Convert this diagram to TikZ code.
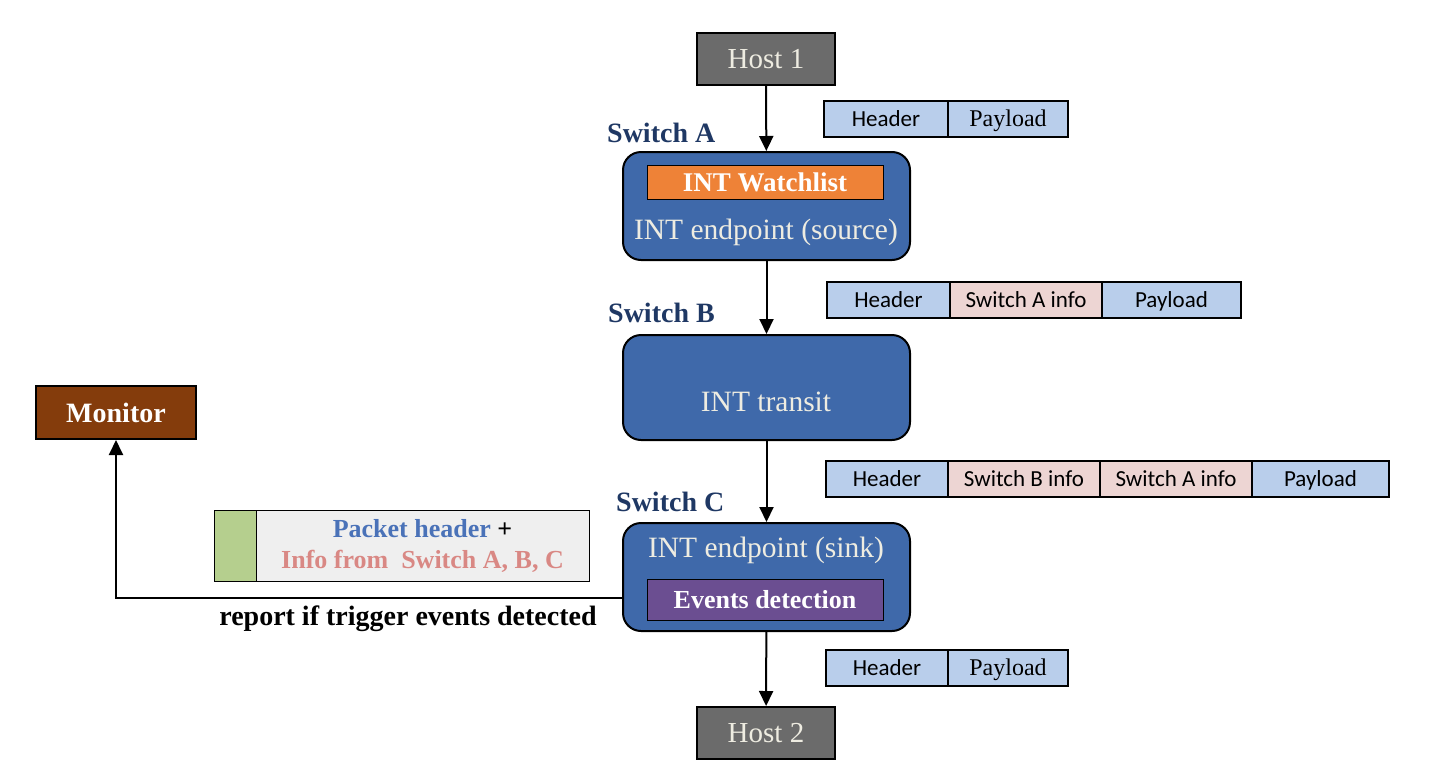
\documentclass[tikz,border=0pt]{standalone}
\usepackage{fontspec}
\setmainfont{Liberation Serif}
\newfontfamily\calib{Carlito}
\usetikzlibrary{arrows.meta,calc}
\definecolor{hostgray}{HTML}{6B6B6B}
\definecolor{cream}{HTML}{EEECE1}
\definecolor{swblue}{HTML}{3F69AA}
\definecolor{navy}{HTML}{1F3864}
\definecolor{wlorange}{HTML}{EE8237}
\definecolor{evpurple}{HTML}{6B4E91}
\definecolor{monbrown}{HTML}{843C0C}
\definecolor{barblue}{HTML}{B9CEEB}
\definecolor{barpink}{HTML}{EDD5D3}
\definecolor{pgreen}{HTML}{B5CF8E}
\definecolor{pgray}{HTML}{EFEFEF}
\definecolor{phblue}{HTML}{4A72B8}
\definecolor{phpink}{HTML}{D98884}
\tikzset{
  x=1pt, y=-1pt,
  hostbox/.style={draw=black, line width=2pt, fill=hostgray, text=cream, inner sep=0pt,
    minimum width=138pt, minimum height=52pt, font=\fontsize{29}{32}\selectfont},
  swbox/.style={draw=black, line width=2pt, fill=swblue, rounded corners=18pt, inner sep=0pt,
    minimum width=287pt},
  swlabel/.style={text=navy, font=\bfseries\fontsize{28}{32}\selectfont, anchor=west, inner sep=0pt},
  swtext/.style={text=cream, font=\fontsize{29.5}{32}\selectfont, inner sep=0pt},
  innerbox/.style={draw=black, line width=1pt, text=white, inner sep=0pt,
    minimum width=236pt, font=\bfseries\fontsize{26}{30}\selectfont},
  cell/.style={draw=black, line width=2pt, inner sep=0pt, minimum height=36pt,
    text height=19pt, text depth=4pt, font=\calib\fontsize{23}{26}\selectfont},
  hcell/.style={cell, fill=barblue},
  icell/.style={cell, fill=barpink},
  pcell/.style={cell, fill=barblue, font=\fontsize{24}{28}\selectfont},
  pcells/.style={cell, fill=barblue},
  arr/.style={line width=2pt, -{Triangle[width=14pt,length=15pt]}},
}
\begin{document}
\begin{tikzpicture}
\useasboundingbox (0,0) rectangle (1438,782);
% hosts
\node[hostbox] (h1) at (766,59) {Host 1};
\node[hostbox] (h2) at (766,733) {Host 2};
% switch A
\node[swbox, minimum height=108pt] (swa) at (766.5,206) {};
\node[innerbox, fill=wlorange, minimum height=34pt, font=\bfseries\fontsize{27}{30}\selectfont] (wl) at (765,182) {INT Watchlist};
\node[swtext] (swat) at (766,232) {INT endpoint (source)};
\node[swlabel] (swal) at (607,133) {Switch A};
% switch B
\node[swbox, minimum height=105pt] (swb) at (766.5,387.5) {};
\node[swtext] (swbt) at (766,402) {INT transit};
\node[swlabel] (swbl) at (608,313) {Switch B};
% switch C
\node[swbox, minimum height=108pt] (swc) at (766.5,577) {};
\node[swtext] (swct) at (766,550) {INT endpoint (sink)};
\node[innerbox, fill=evpurple, minimum height=41pt] (ev) at (765,599.5) {Events detection};
\node[swlabel] (swcl) at (616,502) {Switch C};
% monitor
\node[draw=black, line width=2pt, fill=monbrown, text=white, inner sep=0pt,
  minimum width=160pt, minimum height=53pt, font=\bfseries\fontsize{28}{32}\selectfont] (mon) at (116,412.5) {Monitor};
% packet bars
\node[hcell, minimum width=124pt] (b1h) at (886,118.5) {Header};
\node[pcell, minimum width=120pt] (b1p) at (1008,118.5) {Payload};
\node[hcell, minimum width=123pt] (b2h) at (888.5,300) {Header};
\node[icell, minimum width=152pt] (b2i) at (1026,300) {Switch A info};
\node[pcells, minimum width=139pt] (b2p) at (1171.5,300) {Payload};
\node[hcell, minimum width=122pt] (b3h) at (887,478.5) {Header};
\node[icell, minimum width=152pt] (b3b) at (1024,478.5) {Switch B info};
\node[icell, minimum width=152pt] (b3a) at (1176,478.5) {Switch A info};
\node[pcells, minimum width=137pt] (b3p) at (1320.5,478.5) {Payload};
\node[hcell, minimum width=122pt] (b4h) at (887,667.5) {Header};
\node[pcell, minimum width=120pt] (b4p) at (1008,667.5) {Payload};
% report packet
\node[draw=black, line width=1pt, fill=pgray, inner sep=0pt, minimum width=333pt, minimum height=71pt,
  align=center, font=\bfseries\fontsize{26}{31}\selectfont] (pk) at (422.5,545.5)
  {\textcolor{phblue}{Packet header} +\\\textcolor{phpink}{Info from\ \ Switch A, B, C}};
\node[draw=black, line width=1pt, fill=pgreen, inner sep=0pt, minimum width=42pt, minimum height=71pt] (pkg) at (235,545.5) {};
\node[font=\bfseries\fontsize{28}{32}\selectfont, inner sep=0pt] (rep) at (408,619) {report if trigger events detected};
% connectors
\draw[arr] (h1) -- (swa);
\draw[arr] (swa) -- (swb);
\draw[arr] (swb) -- (swc);
\draw[arr] (swc) -- (h2);
\draw[arr] ([yshift=1.5pt]swc.west |- ev) -| (mon);
\end{tikzpicture}
\end{document}
